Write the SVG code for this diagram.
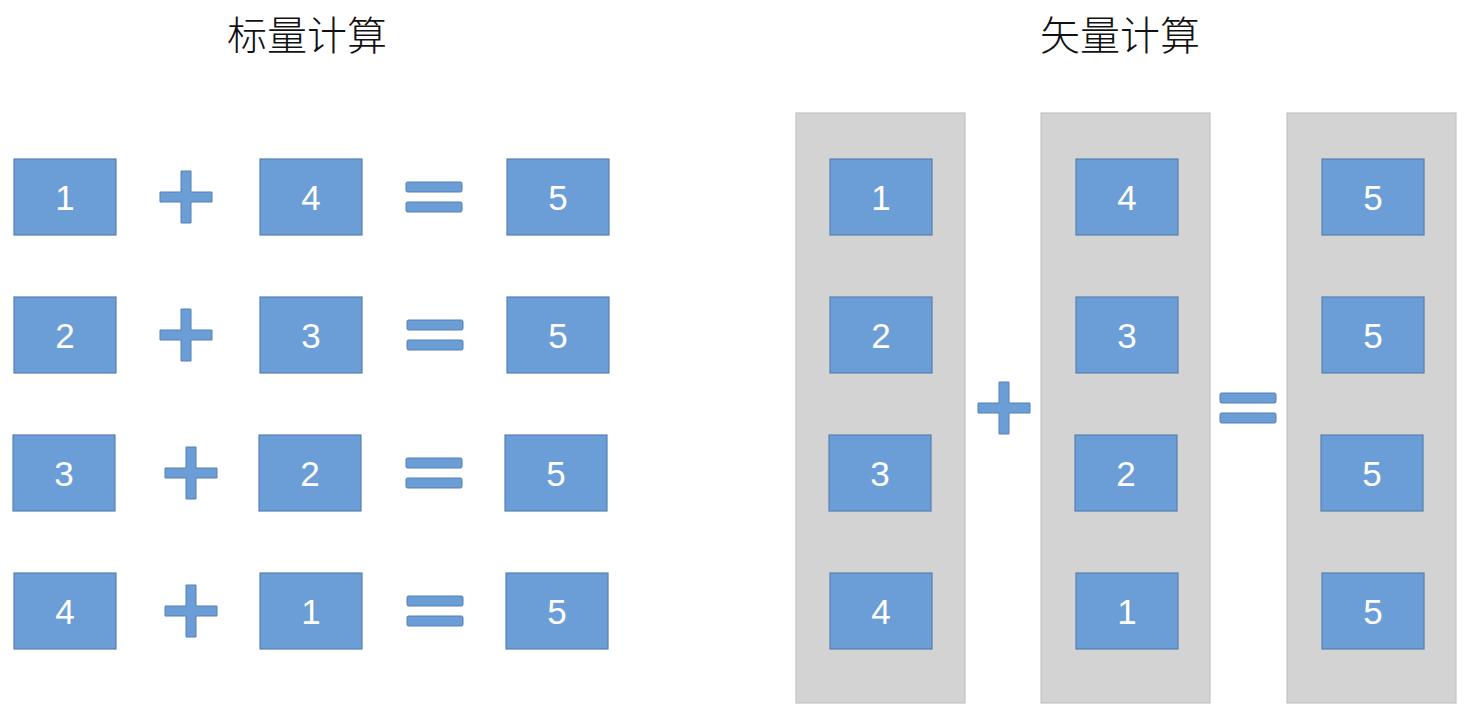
<svg xmlns="http://www.w3.org/2000/svg" width="1468" height="718" viewBox="0 0 1468 718">
<defs>
<style>
.title{font-family:"Noto Sans CJK SC","Liberation Sans",sans-serif;font-size:40px;font-weight:300;fill:#111;text-anchor:middle}
.box{fill:#6b9ed6;stroke:#5680b0;stroke-width:1.2}
.num{font-family:"Liberation Sans",Arial,sans-serif;font-size:35px;fill:#fff;text-anchor:middle;dominant-baseline:central}
.col{fill:#d3d3d3;stroke:#c4c4c4;stroke-width:1.2}
.op{fill:#6b9ed6;stroke:#5680b0;stroke-width:1}
</style>
<path id="plus" d="M-5,-26 H5 V-5 H26 V5 H5 V26 H-5 V5 H-26 V-5 H-5 Z"/>
<g id="eq"><rect x="-28" y="-15" width="56" height="10" rx="1.5"/><rect x="-28" y="5" width="56" height="10" rx="1.5"/></g>
</defs>
<rect width="1468" height="718" fill="#fff"/>
<text class="title" x="307" y="50">标量计算</text>
<text class="title" x="1120" y="50">矢量计算</text>

<g id="scalar">
<g id="s-row1">
<rect class="box" x="14" y="159" width="102" height="76"/><text class="num" x="65" y="197">1</text>
<use href="#plus" class="op" x="186" y="197"/>
<rect class="box" x="260" y="159" width="102" height="76"/><text class="num" x="311" y="197">4</text>
<use href="#eq" class="op" x="434" y="197"/>
<rect class="box" x="507" y="159" width="102" height="76"/><text class="num" x="558" y="197">5</text>
</g>
<g id="s-row2">
<rect class="box" x="14" y="297" width="102" height="76"/><text class="num" x="65" y="335">2</text>
<use href="#plus" class="op" x="186" y="335"/>
<rect class="box" x="260" y="297" width="102" height="76"/><text class="num" x="311" y="335">3</text>
<use href="#eq" class="op" x="435" y="335"/>
<rect class="box" x="507" y="297" width="102" height="76"/><text class="num" x="558" y="335">5</text>
</g>
<g id="s-row3">
<rect class="box" x="13" y="435" width="102" height="76"/><text class="num" x="64" y="473">3</text>
<use href="#plus" class="op" x="191" y="473"/>
<rect class="box" x="259" y="435" width="102" height="76"/><text class="num" x="310" y="473">2</text>
<use href="#eq" class="op" x="434" y="473"/>
<rect class="box" x="505" y="435" width="102" height="76"/><text class="num" x="556" y="473">5</text>
</g>
<g id="s-row4">
<rect class="box" x="14" y="573" width="102" height="76"/><text class="num" x="65" y="611">4</text>
<use href="#plus" class="op" x="191" y="611"/>
<rect class="box" x="260" y="573" width="102" height="76"/><text class="num" x="311" y="611">1</text>
<use href="#eq" class="op" x="435" y="611"/>
<rect class="box" x="506" y="573" width="102" height="76"/><text class="num" x="557" y="611">5</text>
</g>
</g>

<g id="vector">
<g id="v-col1">
<rect class="col" x="796" y="113" width="169" height="590"/>
<rect class="box" x="830" y="159" width="102" height="76"/><text class="num" x="881" y="197">1</text>
<rect class="box" x="830" y="297" width="102" height="76"/><text class="num" x="881" y="335">2</text>
<rect class="box" x="829" y="435" width="102" height="76"/><text class="num" x="880" y="473">3</text>
<rect class="box" x="830" y="573" width="102" height="76"/><text class="num" x="881" y="611">4</text>
</g>
<use id="v-plus" href="#plus" class="op" x="1004" y="408"/>
<g id="v-col2">
<rect class="col" x="1041" y="113" width="169" height="590"/>
<rect class="box" x="1076" y="159" width="102" height="76"/><text class="num" x="1127" y="197">4</text>
<rect class="box" x="1076" y="297" width="102" height="76"/><text class="num" x="1127" y="335">3</text>
<rect class="box" x="1075" y="435" width="102" height="76"/><text class="num" x="1126" y="473">2</text>
<rect class="box" x="1076" y="573" width="102" height="76"/><text class="num" x="1127" y="611">1</text>
</g>
<use id="v-eq" href="#eq" class="op" x="1248" y="408"/>
<g id="v-col3">
<rect class="col" x="1287" y="113" width="169" height="590"/>
<rect class="box" x="1322" y="159" width="102" height="76"/><text class="num" x="1373" y="197">5</text>
<rect class="box" x="1322" y="297" width="102" height="76"/><text class="num" x="1373" y="335">5</text>
<rect class="box" x="1321" y="435" width="102" height="76"/><text class="num" x="1372" y="473">5</text>
<rect class="box" x="1322" y="573" width="102" height="76"/><text class="num" x="1373" y="611">5</text>
</g>
</g>
</svg>
